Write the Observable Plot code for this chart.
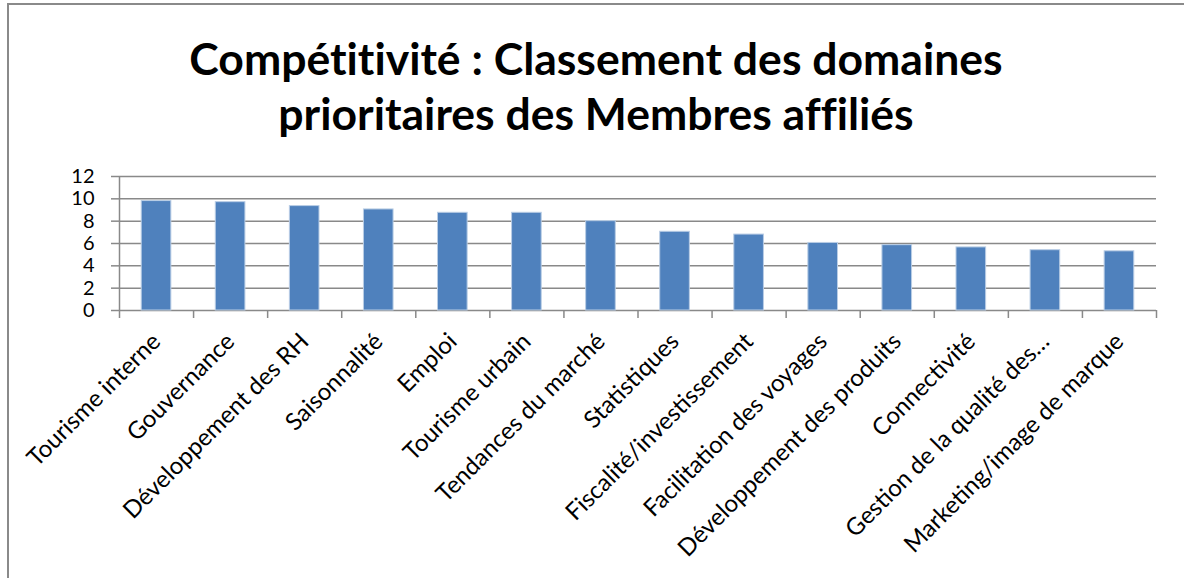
<!DOCTYPE html>
<html>
<head>
<meta charset="utf-8">
<script src="https://cdn.jsdelivr.net/npm/d3@7"></script>
<script src="https://cdn.jsdelivr.net/npm/@observablehq/plot@0.6"></script>
<style>
  html, body { margin: 0; padding: 0; background: #fff; }
  #wrap { position: relative; width: 1184px; height: 578px; overflow: hidden; background: #fff; }
  #frame { position: absolute; left: 7px; top: 3px; width: 1200px; height: 600px;
           border-left: 2.5px solid #8a8a8a; border-top: 2.5px solid #8a8a8a; pointer-events: none; }
  #title { position: relative; height: 150px; box-sizing: border-box; padding-top: 30px; padding-left: 8px;
           text-align: center; font-family: Lato, "Open Sans", sans-serif; font-weight: bold;
           font-size: 44.5px; line-height: 55px; color: #000; font-variant-ligatures: none; }
  #chart svg { display: block; font-variant-ligatures: none; }
</style>
</head>
<body>
<div id="wrap">
  <div id="title">Compétitivité : Classement des domaines<br>prioritaires des Membres affiliés</div>
  <div id="chart"></div>
  <div id="frame"></div>
</div>
<script>
const categories = [
  "Tourisme interne", "Gouvernance", "Développement des RH", "Saisonnalité", "Emploi",
  "Tourisme urbain", "Tendances du marché", "Statistiques", "Fiscalité/investissement",
  "Facilitation des voyages", "Développement des produits", "Connectivité",
  "Gestion de la qualité des…", "Marketing/image de marque"
];
const values = [9.8, 9.7, 9.35, 9.05, 8.75, 8.75, 8.0, 7.05, 6.8, 6.05, 5.85, 5.65, 5.4, 5.3];
const yTicks = [0, 2, 4, 6, 8, 10, 12];

const data = categories.map((c, i) => ({ i, category: c, value: values[i] }));
const grid = "#898989";

const chart = Plot.plot({
  width: 1184,
  height: 428,
  marginLeft: 119,
  marginRight: 28,
  marginTop: 26,
  marginBottom: 268,
  style: { fontFamily: "Lato, 'Open Sans', sans-serif", color: "#000", background: "#fff" },
  x: { type: "linear", domain: [0, categories.length], axis: null },
  y: { domain: [0, 12], axis: null },
  marks: [
    Plot.ruleY(yTicks, { stroke: grid, strokeWidth: 1.5 }),
    Plot.rectY(data, {
      x1: d => d.i + 0.3, x2: d => d.i + 0.7, y: "value",
      fill: "#4f81bd", stroke: "#b9cde5", strokeWidth: 1
    }),
    Plot.ruleX([0], { stroke: grid, strokeWidth: 1.5 }),
    Plot.axisY({
      ticks: yTicks, tickSize: 8, tickPadding: 17, fontSize: 20, label: null,
      stroke: grid, strokeWidth: 1.5
    }),
    Plot.axisX({
      ticks: d3.range(categories.length + 1), tickSize: 8, tickFormat: () => "", label: null,
      stroke: grid, strokeWidth: 1.5
    }),
    Plot.axisX({
      ticks: d3.range(categories.length).map(i => i + 0.5),
      tickFormat: v => categories[Math.floor(v)], label: null,
      tickSize: 0, tickPadding: 27, tickRotate: -45, fontSize: 24
    })
  ]
});
document.getElementById("chart").appendChild(chart);
</script>
</body>
</html>
